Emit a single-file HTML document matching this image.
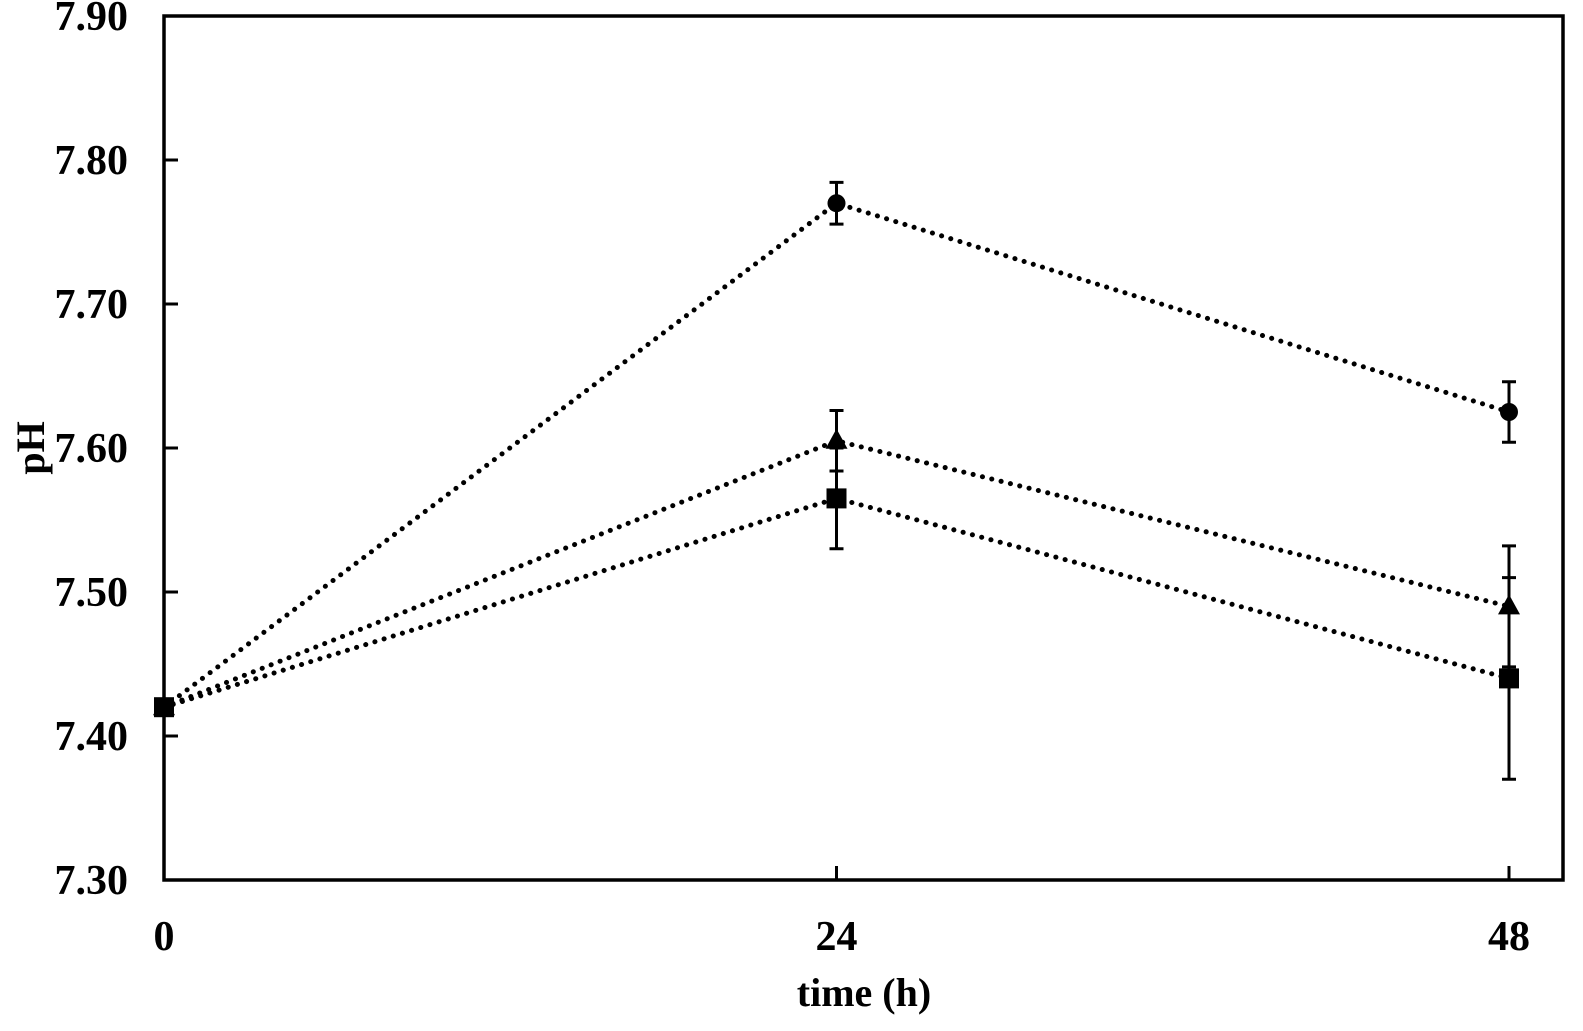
<!DOCTYPE html>
<html><head><meta charset="utf-8"><style>
body{margin:0;background:#fff}
svg text{font-family:"Liberation Serif",serif;font-weight:bold;fill:#000}
</style></head><body>
<svg id="chart" width="1583" height="1026" viewBox="0 0 1583 1026" xmlns="http://www.w3.org/2000/svg">
<rect x="164" y="16" width="1399" height="864" fill="none" stroke="#000" stroke-width="3.5"/>
<g id="ticks"></g>
<g id="series"></g>
<text x="864" y="1006" font-size="40" text-anchor="middle">time (h)</text>
<text transform="translate(44,448) rotate(-90)" font-size="40" text-anchor="middle">pH</text>
</svg>
<script>
const times=[0,24,48];
const xTicks=[0,24,48];
const yTicks=[7.30,7.40,7.50,7.60,7.70,7.80,7.90];
const circleVals=[7.42,7.77,7.625];
const circleErr=[0,0.0145,0.021];
const triangleVals=[7.42,7.605,7.49];
const triangleErr=[0,0.021,0.042];
const squareVals=[7.42,7.565,7.44];
const squareErr=[0,0.035,0.07];
const NS="http://www.w3.org/2000/svg";
const X=t=>164+(t-0)/48*1345;
const Y=v=>880-(v-7.3)/0.6*864;
function mk(tag,attrs,parent){const e=document.createElementNS(NS,tag);for(const k in attrs)e.setAttribute(k,attrs[k]);parent.appendChild(e);return e;}
const tg=document.getElementById('ticks');
yTicks.forEach(v=>{
 const l=mk('line',{x1:164,x2:178,y1:Y(v),y2:Y(v),stroke:'#000','stroke-width':3},tg);
 
 
 const t=mk('text',{x:128,y:Y(v)+14,'font-size':42,'text-anchor':'end'},tg);
 t.textContent=v.toFixed(2);
 
 
});
xTicks.forEach(v=>{
 const l=mk('line',{x1:X(v),x2:X(v),y1:880,y2:866,stroke:'#000','stroke-width':3},tg);
 
 
 const t=mk('text',{x:X(v),y:950,'font-size':42,'text-anchor':'middle'},tg);
 t.textContent=v;
 
 
});
const sg=document.getElementById('series');
function series(name,vals,errs,shape){
 const g=mk('g',{},sg);
 
 
 const pl=mk('polyline',{points:times.map((t,i)=>X(t)+','+Y(vals[i])).join(' '),fill:'none',stroke:'#000','stroke-width':5,'stroke-dasharray':'0.1 9.5','stroke-linecap':'round'},g);
 
 
 times.forEach((t,i)=>{
  const x=X(t),y=Y(vals[i]);
  if(errs[i]>0){
   const e=mk('path',{d:`M${x},${Y(vals[i]-errs[i])}V${Y(vals[i]+errs[i])}M${x-7},${Y(vals[i]-errs[i])}h14M${x-7},${Y(vals[i]+errs[i])}h14`,stroke:'#000','stroke-width':3,fill:'none'},g);
   
   
  }
  let m;
  if(shape==='circle') m=mk('circle',{cx:x,cy:y,r:9,fill:'#000'},g);
  else if(shape==='square') m=mk('rect',{x:x-10,y:y-10,width:20,height:20,fill:'#000'},g);
  else m=mk('polygon',{points:`${x},${y-12} ${x+11},${y+8} ${x-11},${y+8}`,fill:'#000'},g);
  
  
 });
}
series('circle',circleVals,circleErr,'circle');
series('triangle',triangleVals,triangleErr,'triangle');
series('square',squareVals,squareErr,'square');
</script>
</body></html>
